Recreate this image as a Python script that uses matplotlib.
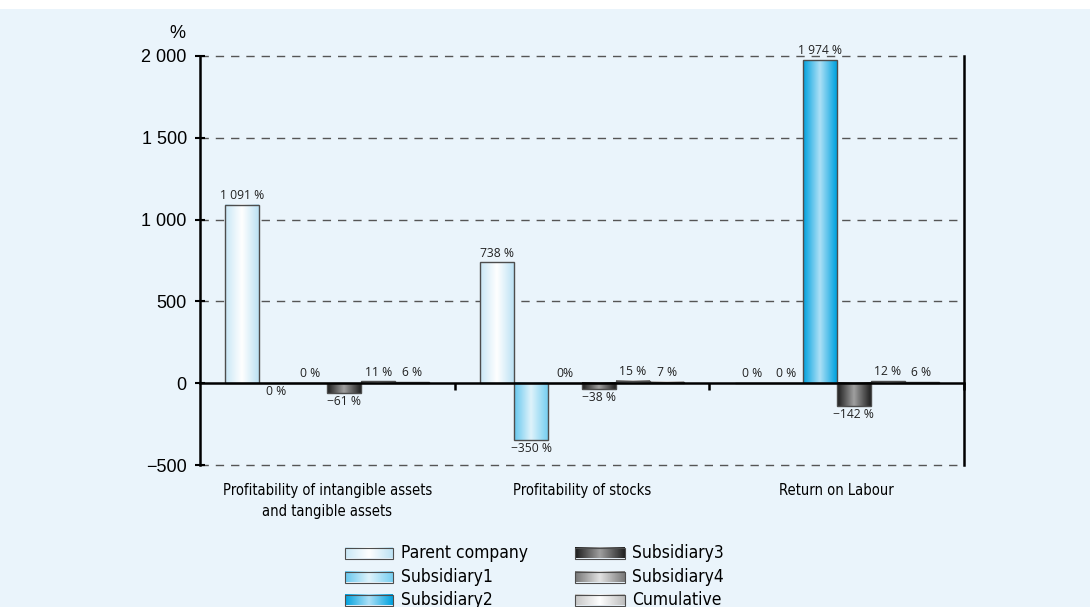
import matplotlib
matplotlib.use('Agg')
import matplotlib.pyplot as plt
import numpy as np
from matplotlib.colors import LinearSegmentedColormap
from matplotlib.patches import Rectangle
from matplotlib.transforms import blended_transform_factory

categories = ['Profitability of intangible assets\nand tangible assets',
              'Profitability of stocks',
              'Return on Labour']
series = ['Parent company', 'Subsidiary1', 'Subsidiary2',
          'Subsidiary3', 'Subsidiary4', 'Cumulative']
values = [
    [1091, 738, 0],      # Parent company
    [-0.3, -350, 0],     # Subsidiary1
    [0, 0, 1974],        # Subsidiary2
    [-61, -38, -142],    # Subsidiary3
    [11, 15, 12],        # Subsidiary4
    [6, 7, 6],           # Cumulative
]
labels = [
    ['1 091 %', '738 %', '0 %'],
    ['0 %', '\u2212350 %', '0 %'],
    ['0 %', '0%', '1 974 %'],
    ['\u221261 %', '\u221238 %', '\u2212142 %'],
    ['11 %', '15 %', '12 %'],
    ['6 %', '7 %', '6 %'],
]
yticks = [-500, 0, 500, 1000, 1500, 2000]
ytick_labels = ['\u2212500', '0', '500', '1 000', '1 500', '2 000']

# left / centre / right shades of each bar's horizontal gradient
shades = [
    ['#c9e7f6', '#ffffff', '#bde2f4'],
    ['#66c7ee', '#dff3fb', '#78cff1'],
    ['#00a2df', '#aee0f6', '#00a2df'],
    ['#1c1c1c', '#a0a0a0', '#222222'],
    ['#777777', '#e2e2e2', '#7a7a7a'],
    ['#c6c6c6', '#ffffff', '#bebebe'],
]
cmaps = [LinearSegmentedColormap.from_list('g%d' % i, s) for i, s in enumerate(shades)]
grad = np.linspace(0, 1, 64).reshape(1, -1)

bg = '#eaf4fb'
edge = '#4d4d4d'
narrow = dict(family=['Liberation Sans Narrow', 'DejaVu Sans'], stretch='condensed')

fig = plt.figure(figsize=(10.9, 6.07), dpi=100)
fig.patch.set_facecolor('white')
fig.add_artist(Rectangle((0, 0), 1, 1 - 9 / 607, transform=fig.transFigure,
                         facecolor=bg, edgecolor='none', zorder=-10))

ax = fig.add_axes([200 / 1090, 1 - 465 / 607, 764 / 1090, 409 / 607])
ax.set_facecolor(bg)

x = np.arange(len(categories)) + 0.5
w = 34 / 255
for i in range(len(series)):
    pos = x + (i - 2.5) * w
    bars = ax.bar(pos, values[i], w, facecolor='none', edgecolor=edge,
                  linewidth=1, zorder=4)
    for r, txt, v in zip(bars, labels[i], values[i]):
        x0, y0 = r.get_x(), r.get_y()
        h = r.get_height()
        if abs(h) > 0.5:
            ax.imshow(grad, cmap=cmaps[i], aspect='auto', zorder=3,
                      extent=[x0, x0 + r.get_width(), y0, y0 + h],
                      interpolation='bilinear')
        if v >= 0:
            ax.annotate(txt, (x0 + w / 2, v), xytext=(0, 2),
                        textcoords='offset points', ha='center', va='bottom',
                        fontsize=8.7, family='Open Sans', color='#222222')
        else:
            ax.annotate(txt, (x0 + w / 2, v), xytext=(0, -1),
                        textcoords='offset points', ha='center', va='top',
                        fontsize=8.7, family='Open Sans', color='#222222')

ax.set_xlim(0, 3)
ax.set_ylim(-500, 2000)

# dashed grid, solid zero line with group separators
for yv in [-500, 500, 1000, 1500, 2000]:
    ax.axhline(yv, color='#555555', linestyle=(0, (6, 5)), linewidth=1,
               zorder=1, clip_on=False)
ax.spines['top'].set_visible(False)
ax.spines['bottom'].set_position(('data', 0))
for s in ['left', 'right', 'bottom']:
    ax.spines[s].set_linewidth(1.8)
    ax.spines[s].set_zorder(5)
ax.set_xticks([1, 2, 3])
ax.set_xticklabels([])
ax.tick_params(axis='x', direction='out', length=5, width=1.8)

ax.set_yticks(yticks)
ax.set_yticklabels(ytick_labels, family='Liberation Sans', fontsize=13)
ax.tick_params(axis='y', direction='inout', length=7, width=1.5, pad=6)
ax.text(-0.03, 1.035, '%', transform=ax.transAxes, ha='center', va='bottom',
        fontsize=13, family='Liberation Sans')

tr = blended_transform_factory(ax.transData, ax.transAxes)
for xc, name in zip(x, categories):
    ax.text(xc, -0.045, name, transform=tr, ha='center', va='top',
            fontsize=10.5, linespacing=1.45, **narrow)

# legend with gradient swatches
lg = fig.add_axes([0, 0, 1, 1], facecolor='none')
lg.axis('off')
cols = [(345, 393, 401), (575, 625, 632)]
rows = [553, 577, 600]
for i, name in enumerate(series):
    c, r = divmod(i, 3)
    x0, x1, tx = cols[c]
    yc = rows[r]
    lg.imshow(grad, cmap=cmaps[i], aspect='auto', extent=[x0, x1, yc + 5.5, yc - 5.5],
              interpolation='bilinear')
    lg.add_patch(Rectangle((x0, yc - 5.5), x1 - x0, 11, facecolor='none',
                           edgecolor=edge, linewidth=0.8))
    lg.text(tx, yc, name, va='center', ha='left', fontsize=12.5, **narrow)
lg.set_xlim(0, 1090)
lg.set_ylim(607, 0)

fig.savefig('out.png', dpi=100, facecolor=fig.get_facecolor())
